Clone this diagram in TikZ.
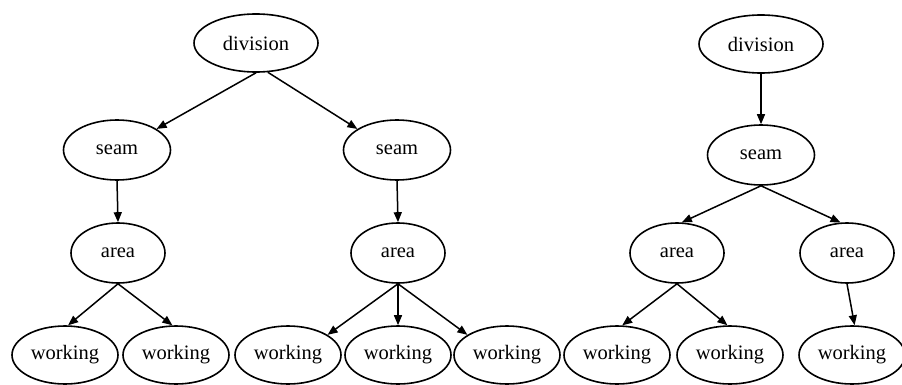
\documentclass[tikz,border=0pt]{standalone}
\usepackage{fontspec}
\setmainfont{Liberation Serif}
\usetikzlibrary{arrows.meta,shapes.geometric}
\tikzset{
  treenode/.style={draw, ellipse, line width=1.6pt, inner sep=0pt, font=\fontsize{20.5}{24}\selectfont},
  divnode/.style={treenode, minimum width=124pt, minimum height=58pt},
  seamnode/.style={treenode, minimum width=107pt, minimum height=60pt},
  areanode/.style={treenode, minimum width=94pt, minimum height=60pt},
  worknode/.style={treenode, minimum width=106pt, minimum height=58pt},
  link/.style={line width=1.5pt, -{Triangle[length=10pt,width=8pt]}}
}
\begin{document}
\begin{tikzpicture}[x=1pt,y=-1pt]
  \useasboundingbox (0,0) rectangle (902,385);

  % first tree
  \node[divnode]  (d1)  at (256,43)  {division};
  \node[seamnode] (s1)  at (117,150) {seam};
  \node[seamnode] (s2)  at (397,150) {seam};
  \node[areanode] (a1)  at (118,253) {area};
  \node[areanode] (a2)  at (398,253) {area};
  \node[worknode] (w1)  at (65,355)  {working};
  \node[worknode] (w2)  at (176,355) {working};
  \node[worknode] (w3)  at (288,355) {working};
  \node[worknode] (w4)  at (398,355) {working};
  \node[worknode] (w5)  at (507,355) {working};

  \draw[link] (d1.south) -- (s1.28);
  \draw[link] (d1.-68)   -- (s2.152);
  \draw[link] (s1.south) -- (a1.north);
  \draw[link] (s2.south) -- (a2.north);
  \draw[link] (a1.south) -- (w1.84);
  \draw[link] (a1.south) -- (w2.97);
  \draw[link] (a2.south) -- (w3.27);
  \draw[link] (a2.south) -- (w4.north);
  \draw[link] (a2.south) -- (w5.153);

  % second tree
  \node[divnode]  (d2)  at (761,44)  {division};
  \node[seamnode] (s3)  at (761,155) {seam};
  \node[areanode] (a3)  at (677,253) {area};
  \node[areanode] (a4)  at (847,253) {area};
  \node[worknode] (w6)  at (617,355) {working};
  \node[worknode] (w7)  at (730,355) {working};
  \node[worknode] (w8)  at (852,355) {working};

  \draw[link] (d2.south) -- (s3.north);
  \draw[link] (s3.south) -- (a3.81);
  \draw[link] (s3.south) -- (a4.102);
  \draw[link] (a3.south) -- (w6.80);
  \draw[link] (a3.south) -- (w7.95);
  \draw[link] (a4.south) -- (w8.85);
\end{tikzpicture}
\end{document}
